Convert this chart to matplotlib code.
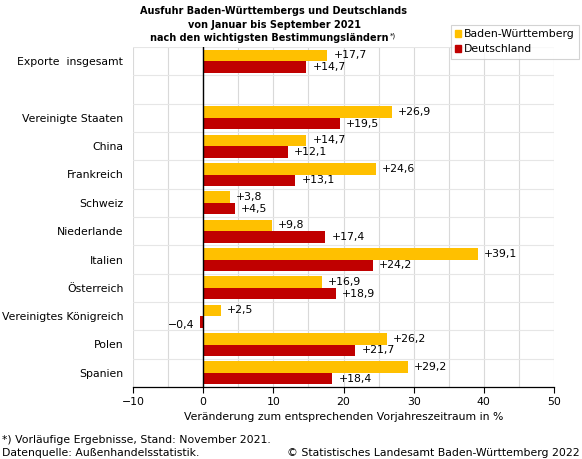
import matplotlib.pyplot as plt
from matplotlib.patches import Patch
from matplotlib.ticker import MultipleLocator, FixedLocator

# Ausfuhr Jan-Sep 2021, Veränderung zum Vorjahreszeitraum in %
laender = ["Exporte  insgesamt", "Vereinigte Staaten", "China", "Frankreich", "Schweiz",
           "Niederlande", "Italien", "Österreich", "Vereinigtes Königreich", "Polen", "Spanien"]
bw = [17.7, 26.9, 14.7, 24.6, 3.8, 9.8, 39.1, 16.9, 2.5, 26.2, 29.2]
de = [14.7, 19.5, 12.1, 13.1, 4.5, 17.4, 24.2, 18.9, -0.4, 21.7, 18.4]
xticks = [-10, 0, 10, 20, 30, 40, 50]

gelb = "#FFC000"
rot = "#C00000"

# row 1 stays empty (gap after total)
pos = [0] + list(range(2, 2 + len(laender) - 1))
h = 0.41
fs = 7.8

plt.rcParams['font.family'] = 'DejaVu Sans'
plt.rcParams['font.size'] = fs

fig = plt.figure(figsize=(5.82, 4.59), dpi=100)
ax = fig.add_axes([133 / 582, 1 - 387 / 459, 421 / 582, 340 / 459])

ax.barh([p - h / 2 for p in pos], bw, height=h, color=gelb, zorder=3)
ax.barh([p + h / 2 for p in pos], de, height=h, color=rot, zorder=3)


def fmt(v):
    s = f"{abs(v):.1f}".replace(".", ",")
    return ("+" if v >= 0 else "\u2212") + s


for p, a, b in zip(pos, bw, de):
    for v, y in ((a, p - h / 2), (b, p + h / 2)):
        if v >= 0:
            ax.annotate(fmt(v), (v, y), xytext=(4.5, 0), textcoords="offset points",
                        ha="left", va="center", fontsize=fs)
        else:
            ax.annotate(fmt(v), (v, y), xytext=(-4.5, -2), textcoords="offset points",
                        ha="right", va="center", fontsize=fs)

ax.set_xlim(-10, 50)
ax.set_ylim(11.5, -0.5)
ax.set_xticks(xticks)
ax.set_xticklabels([str(t).replace("-", "\u2212") for t in xticks])
ax.xaxis.set_minor_locator(MultipleLocator(5))
ax.set_yticks(pos)
ax.set_yticklabels(laender)
ax.yaxis.set_minor_locator(FixedLocator([i - 0.5 for i in range(13)]))
ax.tick_params(axis="y", which="both", length=0, pad=7)
ax.tick_params(axis="x", which="minor", length=0)
ax.tick_params(axis="x", which="major", length=4, width=0.8, pad=3)

ax.grid(axis="x", which="both", color="#D9D9D9", lw=0.8, zorder=0)
ax.grid(axis="y", which="minor", color="#E6E6E6", lw=0.8, zorder=0)
ax.axvline(0, color="black", lw=1, zorder=4)
for s in ("top", "right", "left"):
    ax.spines[s].set_visible(False)
ax.spines["bottom"].set_linewidth(0.9)

ax.set_xlabel("Veränderung zum entsprechenden Vorjahreszeitraum in %", labelpad=4)

# title
tx = 274 / 582
tfs = 7.0
fig.text(tx, 1 - 11 / 459, "Ausfuhr Baden-Württembergs und Deutschlands", ha="center", va="center",
         fontsize=tfs, fontweight="bold")
fig.text(tx, 1 - 24.5 / 459, "von Januar bis September 2021", ha="center", va="center",
         fontsize=tfs, fontweight="bold")
t3 = fig.text(tx - 0.008, 1 - 38 / 459, "nach den wichtigsten Bestimmungsländern", ha="center", va="center",
              fontsize=tfs, fontweight="bold")
r = fig.canvas.get_renderer()
bb = t3.get_window_extent(r)
fig.text(bb.x1 / 582 + 0.003, 1 - 36 / 459, "*)", ha="left", va="center", fontsize=5)

leg = fig.legend(handles=[Patch(color=gelb, label="Baden-Württemberg"),
                          Patch(color=rot, label="Deutschland")],
                 loc="upper left", bbox_to_anchor=(451 / 582, 1 - 25 / 459),
                 frameon=True, fancybox=False, edgecolor="#C8C8C8",
                 handlelength=0.55, handleheight=0.6, handletextpad=0.25, borderpad=0.4,
                 labelspacing=0.45, borderaxespad=0)
leg.get_frame().set_linewidth(0.8)

fig.text(2 / 582, 1 - 440 / 459, "*) Vorläufige Ergebnisse, Stand: November 2021.", ha="left", va="center")
fig.text(2 / 582, 1 - 453 / 459, "Datenquelle: Außenhandelsstatistik.", ha="left", va="center")
fig.text(580 / 582, 1 - 453 / 459, "© Statistisches Landesamt Baden-Württemberg 2022", ha="right",
         va="center")

fig.savefig("out.png", dpi=100)
